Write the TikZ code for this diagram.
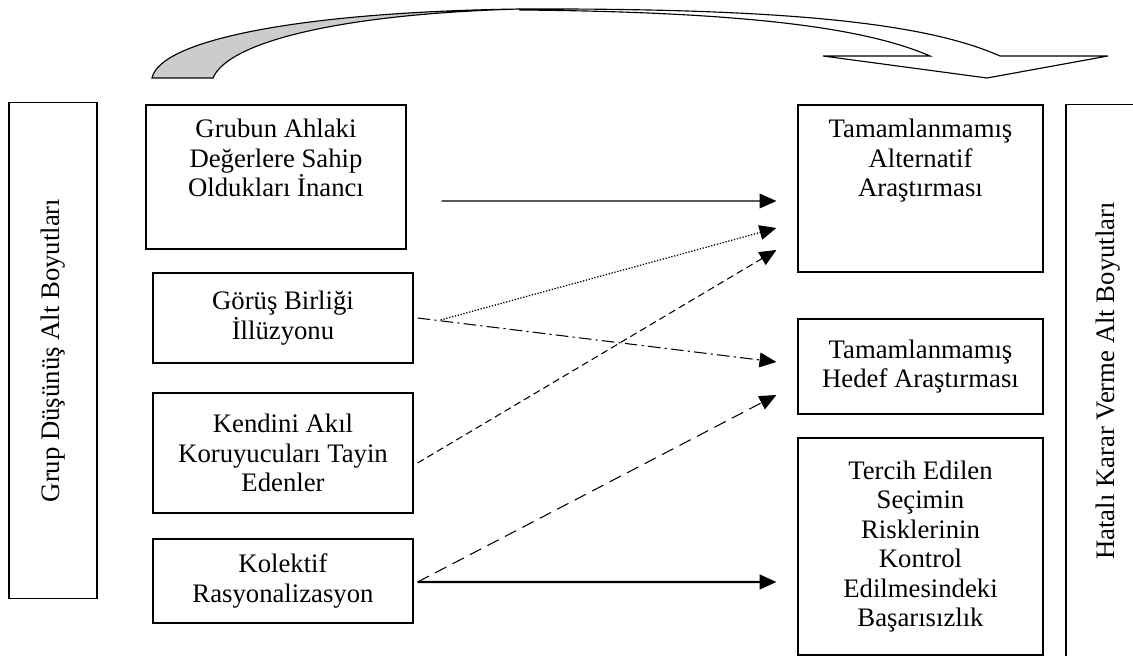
\documentclass[tikz,border=0pt]{standalone}
\usepackage{fontspec}
\setmainfont{Liberation Serif}
\usetikzlibrary{calc,positioning,arrows.meta}
\definecolor{bandgray}{RGB}{204,204,204}

\begin{document}
\begin{tikzpicture}[
  x=0.025cm,y=-0.025cm,
  font=\fontsize{19}{21}\selectfont,
  box/.style={rectangle,draw=black,line width=0.8pt,align=center,inner sep=0pt},
  link/.style={-{Triangle[length=12pt,width=10.5pt]},line width=0.75pt},
  ]

  \useasboundingbox (0,0) rectangle (1133,656);

  %top arrow
  \draw[line width=0.8pt,fill=bandgray] (152,78) .. controls (160,40) and (300,12) .. (520,9)
     .. controls (340,14) and (228,42) .. (213,78) -- cycle;
  \draw[line width=0.8pt,fill=white] (520,9) .. controls (800,8) and (930,25) .. (1000,56)
     -- (1108,56) -- (987,78) -- (823,56) -- (930,56) .. controls (870,30) and (760,12) .. (520,10) -- cycle;

  %side boxes
  \node (side_l) [box,rotate=90,minimum width=12.375cm,minimum height=2.2cm] at (53,350.5) {Grup Düşünüş Alt Boyutları};
  \node (side_r) [box,rotate=90,minimum width=13.8cm,minimum height=2.1cm] at (1108,381) {Hatalı Karar Verme Alt Boyutları};

  %left column
  \node (grp_1) [box,minimum width=6.5cm,minimum height=3.6cm] at (276,177) {};
  \node (grp_1_txt) [align=center,below=7pt of grp_1.north] {Grubun Ahlaki\\Değerlere Sahip\\Oldukları İnancı};
  \foreach \n/\y/\h/\txt in {2/318/2.25/{Görüş Birliği\\İllüzyonu},3/453/3.0/{Kendini Akıl\\Koruyucuları Tayin\\Edenler},4/581/2.1/{Kolektif\\Rasyonalizasyon}}
  {
    \node (grp_\n) [box,minimum width=6.5cm,minimum height=\h cm] at (283,\y) {\txt};
  }

  %right column
  \node (err_1) [box,minimum width=6.125cm,minimum height=4.175cm] at (920.5,188.5) {};
  \node (err_1_txt) [align=center,below=7pt of err_1.north] {Tamamlanmamış\\Alternatif\\Araştırması};
  \node (err_2) [box,minimum width=6.125cm,minimum height=2.375cm] at (920.5,366.5) {Tamamlanmamış\\Hedef Araştırması};
  \node (err_3) [box,minimum width=6.125cm,minimum height=5.425cm] at (920.5,546.5) {Tercih Edilen\\Seçimin\\Risklerinin\\Kontrol\\Edilmesindeki\\Başarısızlık};

  %links
  \draw[link] ($(grp_1.east)+(35,24)$) -- ($(err_1.west)+(-21,12.5)$);
  \draw[link,line width=0.9pt,dash pattern=on 0.9pt off 1.2pt] ($(grp_2.east)+(27,2)$) -- ($(err_1.west)+(-21,39.5)$);
  \draw[link,dash pattern=on 5pt off 3pt] ($(grp_3.east)+(4,10)$) -- ($(err_1.west)+(-21,61.5)$);
  \draw[link,dash pattern=on 9pt off 3pt on 1.5pt off 3pt] ($(grp_2.east)+(4,0)$) -- ($(err_2.west)+(-21,-4.5)$);
  \draw[link,dash pattern=on 9pt off 5pt] ($(grp_4.east)+(4,1)$) -- ($(err_2.west)+(-21,28.5)$);
  \draw[link,line width=1.6pt] ($(grp_4.east)+(4,1)$) -- ($(err_3.west)+(-21,35.5)$);

\end{tikzpicture}
\end{document}
